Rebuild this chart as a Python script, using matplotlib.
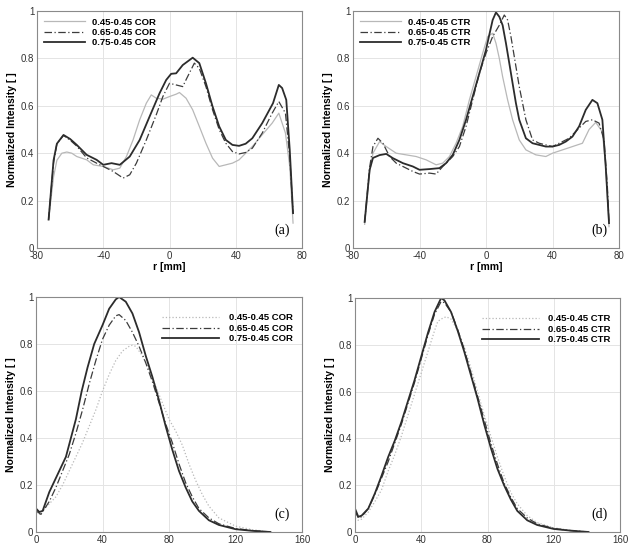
import matplotlib
matplotlib.use("Agg")
import matplotlib.pyplot as plt

# ---------------- data ----------------
# (a) COR radial profiles
a_r_045 = [-73, -70, -68, -65, -62, -59, -56, -50, -46, -40, -34, -30, -26, -22, -18, -14, -11, -8, -4, 0, 4, 6, 10, 14, 18, 22, 26, 30, 34, 38, 42, 46, 50, 56, 62, 66, 70, 72.6, 74.6]
a_i_045 = [0.12, 0.30, 0.37, 0.40, 0.405, 0.40, 0.386, 0.372, 0.351, 0.344, 0.33, 0.337, 0.386, 0.456, 0.541, 0.611, 0.646, 0.632, 0.628, 0.639, 0.649, 0.656, 0.632, 0.583, 0.513, 0.442, 0.379, 0.344, 0.351, 0.358, 0.372, 0.40, 0.428, 0.478, 0.527, 0.569, 0.485, 0.344, 0.105]
a_r_065 = [-73, -70, -68, -64, -60, -56, -50, -44, -40, -34, -28, -24, -20, -14, -8, -4, 0, 4, 8, 10, 15, 18, 22, 26, 30, 34, 38, 42, 46, 50, 56, 62, 66, 70, 72.6, 74.6]
a_i_065 = [0.12, 0.36, 0.44, 0.475, 0.455, 0.43, 0.38, 0.358, 0.344, 0.323, 0.295, 0.309, 0.358, 0.456, 0.562, 0.639, 0.695, 0.688, 0.681, 0.71, 0.78, 0.758, 0.681, 0.583, 0.50, 0.442, 0.407, 0.397, 0.403, 0.421, 0.485, 0.569, 0.618, 0.569, 0.386, 0.147]
a_r_075 = [-73, -70, -68, -64, -60, -56, -50, -44, -40, -35, -30, -24, -18, -12, -6, -2, 1, 4, 8, 14, 18, 22, 26, 30, 34, 38, 42, 46, 50, 56, 62.5, 66, 68, 70.5, 72.6, 74.6]
a_i_075 = [0.12, 0.37, 0.44, 0.477, 0.46, 0.435, 0.393, 0.372, 0.351, 0.358, 0.351, 0.386, 0.456, 0.555, 0.653, 0.709, 0.735, 0.737, 0.772, 0.803, 0.78, 0.695, 0.597, 0.513, 0.456, 0.435, 0.431, 0.44, 0.463, 0.527, 0.611, 0.688, 0.675, 0.625, 0.414, 0.147]

# (b) CTR radial profiles
b_r_045 = [-73, -70, -68, -64, -60, -54, -48, -42, -36, -30, -26, -22, -18, -14, -10, -6, -2, 1, 4, 6, 8, 10, 13, 16, 20, 24, 30, 36, 40, 46, 52, 58, 62, 66, 70, 72, 74]
b_i_045 = [0.10, 0.32, 0.40, 0.449, 0.428, 0.40, 0.393, 0.386, 0.372, 0.351, 0.358, 0.386, 0.442, 0.513, 0.625, 0.723, 0.822, 0.892, 0.906, 0.864, 0.80, 0.723, 0.625, 0.541, 0.456, 0.414, 0.393, 0.386, 0.40, 0.414, 0.428, 0.442, 0.50, 0.53, 0.49, 0.344, 0.09]
b_r_065 = [-73, -70, -68, -65, -62, -58, -54, -50, -44, -40, -34, -30, -26, -20, -16, -12, -8, -4, 0, 4, 8, 11, 13, 15, 17, 20, 24, 28, 32, 36, 40, 44, 50, 56, 60, 64, 68, 71, 73, 74]
b_i_065 = [0.11, 0.34, 0.428, 0.463, 0.442, 0.386, 0.358, 0.344, 0.323, 0.312, 0.316, 0.312, 0.344, 0.386, 0.428, 0.513, 0.625, 0.737, 0.822, 0.892, 0.94, 0.983, 0.962, 0.892, 0.808, 0.681, 0.541, 0.456, 0.442, 0.435, 0.428, 0.442, 0.463, 0.506, 0.534, 0.541, 0.527, 0.456, 0.26, 0.105]
b_r_075 = [-73, -70, -68, -64, -60, -56, -50, -44, -40, -34, -28, -24, -20, -16, -12, -8, -4, 0, 2, 4, 6, 8, 10, 12, 14, 16, 18, 20, 24, 28, 32, 36, 40, 44, 48, 52, 56, 60, 64, 67, 70, 72, 74]
b_i_075 = [0.11, 0.33, 0.38, 0.392, 0.397, 0.379, 0.358, 0.344, 0.33, 0.333, 0.337, 0.358, 0.393, 0.456, 0.541, 0.639, 0.737, 0.836, 0.90, 0.962, 0.994, 0.976, 0.94, 0.864, 0.78, 0.695, 0.611, 0.541, 0.463, 0.442, 0.435, 0.428, 0.428, 0.435, 0.449, 0.47, 0.513, 0.583, 0.625, 0.611, 0.541, 0.344, 0.105]

# (c) COR axial profiles
c_r_045 = [0, 2, 4, 8, 12, 16, 20, 24, 28, 32, 36, 40, 44, 48, 52, 56, 58, 60, 64, 68, 72, 76, 80, 84, 88, 92, 96, 100, 104, 110, 120, 130, 141]
c_i_045 = [0.08, 0.075, 0.09, 0.12, 0.15, 0.20, 0.26, 0.32, 0.38, 0.45, 0.52, 0.60, 0.67, 0.73, 0.77, 0.79, 0.795, 0.79, 0.75, 0.69, 0.62, 0.55, 0.48, 0.43, 0.37, 0.29, 0.22, 0.16, 0.11, 0.06, 0.025, 0.01, 0.0]
c_r_065 = [0, 3, 8, 12, 16, 20, 24, 28, 32, 36, 40, 44, 48, 50, 54, 58, 62, 66, 70, 74, 78, 82, 86, 90, 94, 98, 104, 110, 120, 130, 141]
c_i_065 = [0.09, 0.075, 0.13, 0.19, 0.26, 0.33, 0.42, 0.52, 0.63, 0.73, 0.82, 0.88, 0.92, 0.925, 0.90, 0.85, 0.79, 0.72, 0.64, 0.55, 0.46, 0.38, 0.29, 0.21, 0.15, 0.10, 0.06, 0.035, 0.015, 0.006, 0.0]
c_r_075 = [0, 2, 4, 8, 10, 14, 18, 21, 24, 27.5, 31, 35, 40, 44, 48, 50, 54, 58, 62, 66, 70, 74, 78, 82, 86, 90, 94, 98, 104, 110, 120, 130, 141]
c_i_075 = [0.10, 0.085, 0.09, 0.17, 0.20, 0.26, 0.32, 0.40, 0.48, 0.60, 0.70, 0.80, 0.88, 0.95, 0.99, 1.0, 0.98, 0.93, 0.85, 0.75, 0.66, 0.56, 0.45, 0.35, 0.26, 0.19, 0.13, 0.09, 0.05, 0.03, 0.012, 0.005, 0.0]

# (d) CTR axial profiles
d_r_045 = [0, 2, 4, 8, 12, 16, 20, 24, 28, 32, 36, 40, 44, 48, 50, 52, 55, 58, 62, 66, 70, 74, 78, 82, 86, 90, 94, 98, 104, 110, 120, 130, 141]
d_i_045 = [0.06, 0.05, 0.055, 0.085, 0.13, 0.18, 0.26, 0.33, 0.41, 0.50, 0.59, 0.68, 0.77, 0.86, 0.90, 0.91, 0.92, 0.91, 0.86, 0.79, 0.70, 0.60, 0.50, 0.41, 0.32, 0.24, 0.17, 0.12, 0.07, 0.04, 0.018, 0.007, 0.0]
d_r_065 = [0, 2, 4, 8, 12, 16, 20, 24, 28, 32, 36, 40, 44, 48, 52, 54, 58, 62, 66, 70, 74, 78, 82, 86, 90, 94, 98, 104, 110, 120, 130, 141]
d_i_065 = [0.09, 0.06, 0.065, 0.10, 0.16, 0.23, 0.30, 0.38, 0.46, 0.55, 0.64, 0.74, 0.84, 0.93, 0.985, 0.98, 0.94, 0.865, 0.78, 0.68, 0.58, 0.48, 0.38, 0.29, 0.21, 0.15, 0.10, 0.06, 0.035, 0.015, 0.006, 0.0]
d_r_075 = [0, 2, 4, 8, 12, 16, 20, 24, 28, 32, 36, 40, 44, 48, 52, 54, 58, 62, 66, 70, 74, 78, 82, 86, 90, 94, 98, 104, 110, 120, 130, 141]
d_i_075 = [0.10, 0.065, 0.07, 0.10, 0.165, 0.24, 0.32, 0.39, 0.47, 0.56, 0.65, 0.75, 0.85, 0.94, 1.0, 0.99, 0.94, 0.86, 0.77, 0.67, 0.57, 0.46, 0.36, 0.27, 0.20, 0.14, 0.09, 0.05, 0.03, 0.013, 0.006, 0.0]

labels_cor = ["0.45-0.45 COR", "0.65-0.45 COR", "0.75-0.45 COR"]
labels_ctr = ["0.45-0.45 CTR", "0.65-0.45 CTR", "0.75-0.45 CTR"]
x_ticks_top = [-80, -40, 0, 40, 80]
x_ticks_bot = [0, 40, 80, 120, 160]
y_ticks = [0, 0.2, 0.4, 0.6, 0.8, 1]
y_ticklabels = ["0", "0.2", "0.4", "0.6", "0.8", "1"]
panel_labels = ["(a)", "(b)", "(c)", "(d)"]

# ---------------- plotting ----------------
plt.rcParams['font.family'] = ['Liberation Sans', 'DejaVu Sans']

fig = plt.figure(figsize=(6.32, 5.46), dpi=100)
W, H = 632.0, 546.0

def frac(l, t, r, b):
    return [l / W, 1 - b / H, (r - l) / W, (b - t) / H]

ax_a = fig.add_axes(frac(37, 11, 302, 248))
ax_b = fig.add_axes(frac(353, 11, 619, 248))
ax_c = fig.add_axes(frac(36, 297, 302, 532))
ax_d = fig.add_axes(frac(355, 298, 620, 532))

light = dict(color="#b8b8b8", lw=0.9)
dashd = dict(color="#3c3c3c", lw=0.9, ls=(0, (6, 2, 1, 2)))
solid = dict(color="#2c2c2c", lw=1.3)

series = [
    (ax_a, [(a_r_045, a_i_045), (a_r_065, a_i_065), (a_r_075, a_i_075)], labels_cor, x_ticks_top, "-"),
    (ax_b, [(b_r_045, b_i_045), (b_r_065, b_i_065), (b_r_075, b_i_075)], labels_ctr, x_ticks_top, "-"),
    (ax_c, [(c_r_045, c_i_045), (c_r_065, c_i_065), (c_r_075, c_i_075)], labels_cor, x_ticks_bot, ":"),
    (ax_d, [(d_r_045, d_i_045), (d_r_065, d_i_065), (d_r_075, d_i_075)], labels_ctr, x_ticks_bot, ":"),
]

for k, (ax, data, labs, xt, lightls) in enumerate(series):
    sty = [dict(light, ls=lightls), dashd, solid]
    for (r, i), lab, st in zip(data, labs, sty):
        ax.plot(r, i, label=lab, **st)
    ax.set_xlim(xt[0], xt[-1])
    ax.set_ylim(0, 1)
    ax.set_xticks(xt)
    ax.set_xticklabels([str(v) for v in xt])
    ax.set_yticks(y_ticks)
    ax.set_yticklabels(y_ticklabels)
    ax.grid(True, color="#e4e4e4", lw=0.7)
    ax.set_axisbelow(True)
    for s in ax.spines.values():
        s.set_color("#8a8a8a")
        s.set_linewidth(0.8)
    ax.tick_params(axis="both", labelsize=7, length=0, pad=2, colors="#333333")
    ax.set_ylabel("Normalized Intensity [ ]", fontsize=7.5, fontweight="bold", labelpad=3)
    if k < 2:
        ax.set_xlabel("r [mm]", fontsize=7.5, fontweight="bold", labelpad=1)
        ax.legend(loc="upper left", bbox_to_anchor=(0.0, 1.0), frameon=False,
                  prop={"size": 6.8, "weight": "bold"}, handlelength=4.4,
                  handletextpad=0.7, labelspacing=0.15, borderaxespad=0.3)
    else:
        ax.set_xlabel("r [mm]", fontsize=7.5, fontweight="bold", labelpad=4)
        ax.legend(loc="upper right", bbox_to_anchor=(1.0, 0.97), frameon=False,
                  prop={"size": 6.8, "weight": "bold"}, handlelength=6.0,
                  handletextpad=1.0, labelspacing=0.15, borderaxespad=0.6)
    ax.text(0.955, 0.045, panel_labels[k], transform=ax.transAxes, ha="right", va="bottom",
            fontsize=10, family="Liberation Serif")

fig.savefig("out.png", dpi=100)
